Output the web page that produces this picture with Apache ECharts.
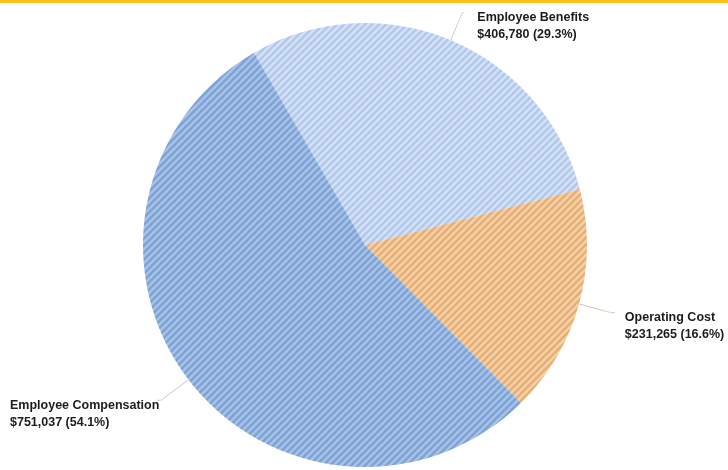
<!DOCTYPE html>
<html>
<head>
<meta charset="utf-8">
<script src="https://cdn.jsdelivr.net/npm/echarts@6/dist/echarts.min.js"></script>
<style>
  html, body { margin: 0; padding: 0; background: #ffffff; }
  #chart { width: 728px; height: 470px; }
</style>
</head>
<body>
<div id="chart"></div>
<script>
// Budget breakdown
const categories = ['Employee Benefits', 'Operating Cost', 'Employee Compensation'];
const values = [406780, 231265, 751037];

// Striped fills: [base colour, stripe colour]
const stripeColors = [
  ['#adc5e9', '#d8e4f5'],
  ['#e5ab6f', '#f6d5ae'],
  ['#7a9fd3', '#abc5e8']
];
const lineColors = ['#c4cfdd', '#dac4aa', '#b6c8de'];

function hexToRgb(h) {
  const n = parseInt(h.slice(1), 16);
  return [(n >> 16) & 255, (n >> 8) & 255, n & 255];
}

// Build a small tile with soft diagonal "/" stripes
function stripeTile(base, light) {
  const size = 7;
  const c = document.createElement('canvas');
  c.width = size; c.height = size;
  const ctx = c.getContext('2d');
  const img = ctx.createImageData(size, size);
  const b = hexToRgb(base), l = hexToRgb(light);
  for (let y = 0; y < size; y++) {
    for (let x = 0; x < size; x++) {
      const t = ((x + y) % size) / size;
      const w = 0.5 + 0.5 * Math.cos(2 * Math.PI * t);
      const i = (y * size + x) * 4;
      for (let k = 0; k < 3; k++) img.data[i + k] = Math.round(b[k] + (l[k] - b[k]) * w);
      img.data[i + 3] = 255;
    }
  }
  ctx.putImageData(img, 0, 0);
  return c;
}

const total = values.reduce((a, b) => a + b, 0);

// Per-slice label placement settings
const labelCfg = [
  { alignTo: 'none', distanceToLabelLine: 13, length: 30, length2: 2 },
  { alignTo: 'none', distanceToLabelLine: 10, length: 33, length2: 4 },
  { alignTo: 'edge', edgeDistance: 10, distanceToLabelLine: 3, length: 34, length2: 4 }
];

const seriesData = categories.map((name, i) => ({
  name: name,
  value: values[i],
  itemStyle: { color: { image: stripeTile(stripeColors[i][0], stripeColors[i][1]), repeat: 'repeat' } },
  label: {
    alignTo: labelCfg[i].alignTo,
    edgeDistance: labelCfg[i].edgeDistance || 0,
    distanceToLabelLine: labelCfg[i].distanceToLabelLine
  },
  labelLine: {
    length: labelCfg[i].length,
    length2: labelCfg[i].length2,
    lineStyle: { color: lineColors[i], width: 1 }
  }
}));

const chart = echarts.init(document.getElementById('chart'), null, { renderer: 'canvas' });
chart.setOption({
  animation: false,
  backgroundColor: '#ffffff',
  graphic: [{
    type: 'rect',
    left: 0, top: 0,
    shape: { width: 728, height: 3 },
    style: { fill: '#f8c21c' }
  }],
  series: [{
    type: 'pie',
    center: [365, 245],
    radius: 222,
    startAngle: 120,
    clockwise: true,
    avoidLabelOverlap: false,
    data: seriesData,
    itemStyle: { borderWidth: 0 },
    label: {
      show: true,
      position: 'outside',
      overflow: 'none',
      fontFamily: '"Liberation Sans", Arial, sans-serif',
      fontWeight: 'bold',
      fontSize: 12.5,
      lineHeight: 17,
      color: '#1c1c1c',
      rich: {
        sp: { lineHeight: 27, fontSize: 1 },
        t: {
          fontFamily: '"Liberation Sans", Arial, sans-serif',
          fontWeight: 'bold', fontSize: 12.5, lineHeight: 17, color: '#1c1c1c'
        }
      },
      // spacer line keeps the name line just below the connector end
      formatter: function (p) {
        const pct = (values[p.dataIndex] / total * 100).toFixed(1);
        return '{sp| }\n{t|' + p.name + '}\n{t|$' + p.value.toLocaleString('en-US') + ' (' + pct + '%)}';
      }
    },
    labelLine: { show: true, smooth: 0.2 },
    emphasis: { disabled: true }
  }]
});
</script>
</body>
</html>
